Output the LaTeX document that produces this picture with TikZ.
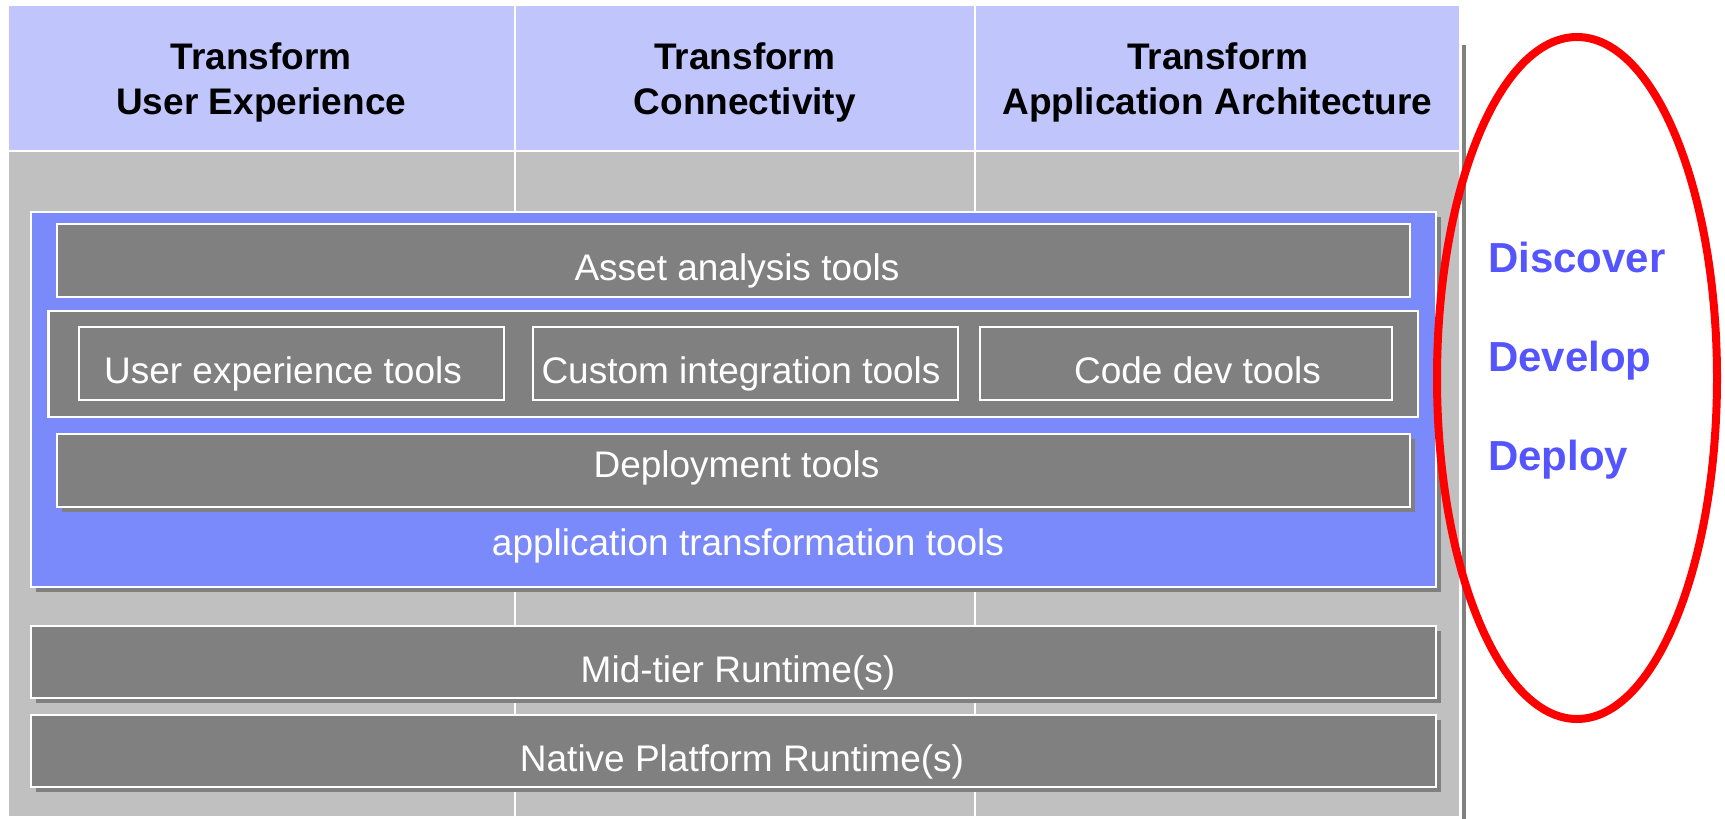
\documentclass[tikz,border=0pt]{standalone}
\usepackage{fontspec}
\setmainfont{Liberation Sans}
\usepackage{xcolor}
\usetikzlibrary{shapes.geometric, shadows}

\definecolor{headblue}{RGB}{192,197,252}
\definecolor{bodygray}{RGB}{192,192,192}
\definecolor{toolblue}{RGB}{122,138,250}
\definecolor{boxgray}{RGB}{128,128,128}
\definecolor{phaseblue}{RGB}{85,85,255}

\begin{document}
\begin{tikzpicture}[
                x=1pt, y=-1pt,
                head_cell/.style={rectangle, fill=headblue, draw=white, line width=2pt, minimum height=146pt, align=center, inner sep=0pt, font=\fontsize{37}{45}\selectfont\bfseries},
                body_cell/.style={rectangle, fill=bodygray, draw=white, line width=2pt, minimum height=666pt, inner sep=0pt},
                tool_box/.style={rectangle, fill=boxgray, draw=white, line width=2.5pt, minimum height=73pt, inner sep=0pt, text height=43pt, text depth=3pt, text=white, font=\fontsize{37}{45}\selectfont},
                shadowed/.style={general shadow={fill=boxgray, shadow xshift=5pt, shadow yshift=-5pt}},
                phase_text/.style={anchor=base west, inner sep=0pt, text=phaseblue, font=\fontsize{42}{50}\selectfont\bfseries}
            ]
                \useasboundingbox (0,0) rectangle (1725,819);

                % outer shadow
                \fill[boxgray] (1462,45) rectangle (1466,819);

                % Column headers
                \node[head_cell, minimum width=506.5pt] (headUX) at (261.25,78) {\rule{0pt}{36pt}Transform\\User Experience};
                \node[head_cell, minimum width=460.5pt] (headConn) at (744.75,78) {\rule{0pt}{36pt}Transform\\Connectivity};
                \node[head_cell, minimum width=485pt] (headArch) at (1217.5,78) {\rule{0pt}{36pt}Transform\\Application Architecture};

                % Column bodies
                \node[body_cell, minimum width=506.5pt] (bodyUX) at (261.25,484) {};
                \node[body_cell, minimum width=460.5pt] (bodyConn) at (744.75,484) {};
                \node[body_cell, minimum width=485pt] (bodyArch) at (1217.5,484) {};

                % Application transformation tools
                \node[rectangle, fill=toolblue, draw=white, line width=2pt, shadowed, minimum width=1405pt, minimum height=375pt] (appTools) at (733.5,399.5) {};
                \node[tool_box, minimum width=1353pt] (asset) at (733.5,260.5) {\hspace*{7pt}Asset analysis tools};
                \node[tool_box, minimum width=1369.5pt, minimum height=106pt] (devRow) at (733.25,364) {};
                \node[tool_box, minimum width=425pt] (uxTools) at (291.5,363.5) {User experience tools\hspace*{17pt}};
                \node[tool_box, minimum width=425pt] (intTools) at (745.5,363.5) {Custom integration tools\hspace*{9pt}};
                \node[tool_box, minimum width=412pt] (codeTools) at (1186,363.5) {\hspace*{23pt}Code dev tools};
                \node[tool_box, shadowed, minimum width=1353pt, text height=16pt] (deploy) at (733.5,470.5) {\hspace*{6pt}Deployment tools};
                \node[text=white, font=\fontsize{37}{45}\selectfont] (appText) at (748,546) {application transformation tools};

                % Runtimes
                \node[tool_box, shadowed, minimum width=1405pt, minimum height=72pt] (midTier) at (733.5,662) {\hspace*{9pt}Mid-tier Runtime(s)};
                \node[tool_box, shadowed, minimum width=1405pt, minimum height=72pt] (native) at (733.5,751) {\hspace*{17pt}Native Platform Runtime(s)};

                % Phases
                \node[ellipse, draw=red, line width=8pt, minimum width=280pt, minimum height=682pt, inner sep=0pt] (phases) at (1577,378) {};
                \node[phase_text] (discover) at (1488,272) {Discover};
                \node[phase_text] (develop) at (1488,371) {Develop};
                \node[phase_text] (deployPhase) at (1488,470) {Deploy};

            \end{tikzpicture}
\end{document}
